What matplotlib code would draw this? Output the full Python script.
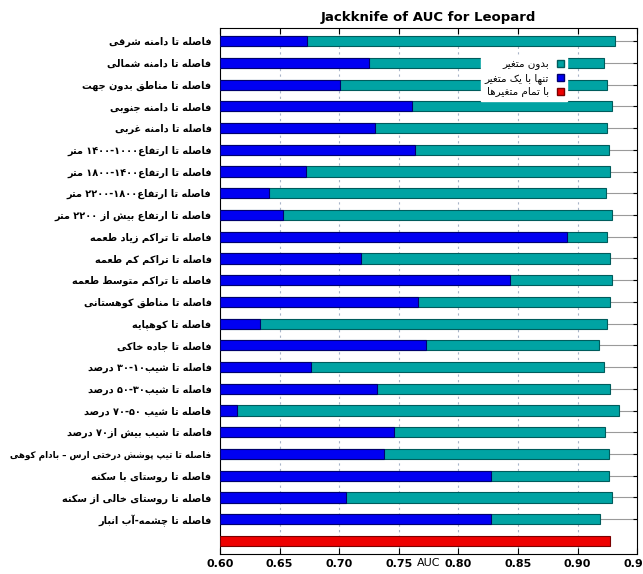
import re
import numpy as np
import matplotlib
matplotlib.use("Agg")
import matplotlib.pyplot as plt
from matplotlib.patches import Patch

# variables, top to bottom
labels = [
    "فاصله تا دامنه شرقی",
    "فاصله تا دامنه شمالی",
    "فاصله تا مناطق بدون جهت",
    "فاصله تا دامنه جنوبی",
    "فاصله تا دامنه غربی",
    "فاصله تا ارتفاع۱۴۰۰-۱۰۰۰ متر",
    "فاصله تا ارتفاع۱۸۰۰-۱۴۰۰ متر",
    "فاصله تا ارتفاع۲۲۰۰-۱۸۰۰ متر",
    "فاصله تا ارتفاع بیش از ۲۲۰۰ متر",
    "فاصله تا تراکم زیاد طعمه",
    "فاصله تا تراکم کم طعمه",
    "فاصله تا تراکم متوسط طعمه",
    "فاصله تا مناطق کوهستانی",
    "فاصله تا کوهپایه",
    "فاصله تا جاده خاکی",
    "فاصله تا شیب۳۰-۱۰ درصد",
    "فاصله تا شیب۵۰-۳۰ درصد",
    "فاصله تا شیب ۷۰-۵۰ درصد",
    "فاصله تا شیب بیش از۷۰ درصد",
    "فاصله تا تیپ پوشش درختی ارس – بادام کوهی",
    "فاصله تا روستای با سکنه",
    "فاصله تا روستای خالی از سکنه",
    "فاصله تا چشمه-آب انبار",
]
auc_without = [0.931, 0.922, 0.925, 0.929, 0.925, 0.926, 0.927, 0.924, 0.929,
               0.925, 0.927, 0.929, 0.927, 0.925, 0.918, 0.922, 0.927, 0.935,
               0.923, 0.926, 0.926, 0.929, 0.919]
auc_only = [0.673, 0.725, 0.701, 0.761, 0.730, 0.764, 0.672, 0.641, 0.653,
            0.891, 0.718, 0.843, 0.766, 0.634, 0.773, 0.676, 0.732, 0.614,
            0.746, 0.738, 0.827, 0.706, 0.827]
auc_all = 0.927
legend_labels = ["بدون متغیر", "تنها با یک متغیر", "با تمام متغیرها"]

# presentation forms: isolated, final, (initial, medial)
FORMS = {
    "ا": "\uFE8D\uFE8E", "آ": "\uFE81\uFE82", "د": "\uFEA9\uFEAA",
    "ذ": "\uFEAB\uFEAC", "ر": "\uFEAD\uFEAE", "ز": "\uFEAF\uFEB0",
    "ژ": "\uFB8A\uFB8B", "و": "\uFEED\uFEEE",
    "ب": "\uFE8F\uFE90\uFE91\uFE92", "پ": "\uFB56\uFB57\uFB58\uFB59",
    "ت": "\uFE95\uFE96\uFE97\uFE98", "ث": "\uFE99\uFE9A\uFE9B\uFE9C",
    "ج": "\uFE9D\uFE9E\uFE9F\uFEA0", "چ": "\uFB7A\uFB7B\uFB7C\uFB7D",
    "ح": "\uFEA1\uFEA2\uFEA3\uFEA4", "خ": "\uFEA5\uFEA6\uFEA7\uFEA8",
    "س": "\uFEB1\uFEB2\uFEB3\uFEB4", "ش": "\uFEB5\uFEB6\uFEB7\uFEB8",
    "ص": "\uFEB9\uFEBA\uFEBB\uFEBC", "ض": "\uFEBD\uFEBE\uFEBF\uFEC0",
    "ط": "\uFEC1\uFEC2\uFEC3\uFEC4", "ظ": "\uFEC5\uFEC6\uFEC7\uFEC8",
    "ع": "\uFEC9\uFECA\uFECB\uFECC", "غ": "\uFECD\uFECE\uFECF\uFED0",
    "ف": "\uFED1\uFED2\uFED3\uFED4", "ق": "\uFED5\uFED6\uFED7\uFED8",
    "ک": "\uFB8E\uFB8F\uFB90\uFB91", "گ": "\uFB92\uFB93\uFB94\uFB95",
    "ل": "\uFEDD\uFEDE\uFEDF\uFEE0", "م": "\uFEE1\uFEE2\uFEE3\uFEE4",
    "ن": "\uFEE5\uFEE6\uFEE7\uFEE8", "ه": "\uFEE9\uFEEA\uFEEB\uFEEC",
    "ی": "\uFBFC\uFBFD\uFBFE\uFBFF",
}


def shape(txt):
    out = []
    for i, ch in enumerate(txt):
        if ch not in FORMS:
            out.append(ch)
            continue
        f = FORMS[ch]
        prev = txt[i - 1] if i > 0 else ""
        nxt = txt[i + 1] if i < len(txt) - 1 else ""
        jp = prev in FORMS and len(FORMS[prev]) == 4
        jn = len(f) == 4 and nxt in FORMS
        if jp and jn:
            out.append(f[3])
        elif jp:
            out.append(f[1])
        elif jn:
            out.append(f[2])
        else:
            out.append(f[0])
    return "".join(out)


def visual(txt):
    # right-to-left display order, number runs stay left-to-right
    tokens = re.findall(r"[0-9۰-۹]+(?:[-–][0-9۰-۹]+)*|.", shape(txt))
    return "".join(reversed(tokens))


teal, teal_edge = "#00a3a3", "#005c5c"
blue, blue_edge = "#0000f2", "#00006e"
red, red_edge = "#ee0000", "#7a0000"

n = len(labels)
y = np.arange(n)
h = 0.47

fig = plt.figure(figsize=(6.43, 5.74), dpi=100)
ax = fig.add_axes([0.342, 0.035, 0.649, 0.916])

ax.barh(y, np.array(auc_without) - 0.6, left=0.6, height=h, color=teal,
        edgecolor=teal_edge, linewidth=0.8, zorder=3)
ax.barh(y, np.array(auc_only) - 0.6, left=0.6, height=h, color=blue,
        edgecolor=blue_edge, linewidth=0.8, zorder=4)
ax.barh([n], [auc_all - 0.6], left=0.6, height=h, color=red,
        edgecolor=red_edge, linewidth=0.8, zorder=3)

ax.set_xlim(0.6, 0.95)
ax.set_ylim(n + 0.6, -0.6)
ax.set_xticks(np.arange(0.60, 0.951, 0.05))
ax.set_xticklabels([f"{v:.2f}" for v in np.arange(0.60, 0.951, 0.05)],
                   fontsize=8, fontweight="bold")
ax.set_yticks(y)
ticklabels = ax.set_yticklabels([visual(s) for s in labels], fontsize=7,
                                fontweight="bold", family="DejaVu Sans")
# the longest label has to fit left of the axes
longest = int(np.argmax([len(s) for s in labels]))
ticklabels[longest].set_fontsize(6.3)
ax.tick_params(axis="x", direction="in", top=True, length=4, pad=4)
ax.tick_params(axis="y", direction="in", left=False, right=True,
               length=3, pad=6)

for v in np.arange(0.65, 0.95, 0.05):
    ax.axvline(v, color="#a8b4c8", linestyle=(0, (2, 3)), linewidth=0.8,
               zorder=1)
for yy in y:
    ax.axhline(yy, color="#9a9a9a", linewidth=0.8, zorder=1)

ax.set_title("Jackknife of AUC for Leopard", fontsize=9.5,
             fontweight="bold", pad=5)
ax.text(0.775, -0.008, "AUC", transform=ax.get_xaxis_transform(),
        ha="center", va="top", fontsize=8)

handles = [Patch(facecolor=teal, edgecolor=teal_edge),
           Patch(facecolor=blue, edgecolor=blue_edge),
           Patch(facecolor=red, edgecolor=red_edge)]
leg = ax.legend(handles, [visual(s) for s in legend_labels],
                loc="upper right", bbox_to_anchor=(0.845, 0.958),
                markerfirst=False, frameon=True, fancybox=False,
                handlelength=0.6, handleheight=0.6, handletextpad=0.8,
                labelspacing=0.3, borderpad=0.35, fontsize=7.5)
leg.get_frame().set_edgecolor("white")
leg.get_frame().set_facecolor("white")
leg.get_frame().set_alpha(1)
leg.set_zorder(6)
for t in leg.get_texts():
    t.set_ha("right")

fig.savefig("out.png", dpi=100)
